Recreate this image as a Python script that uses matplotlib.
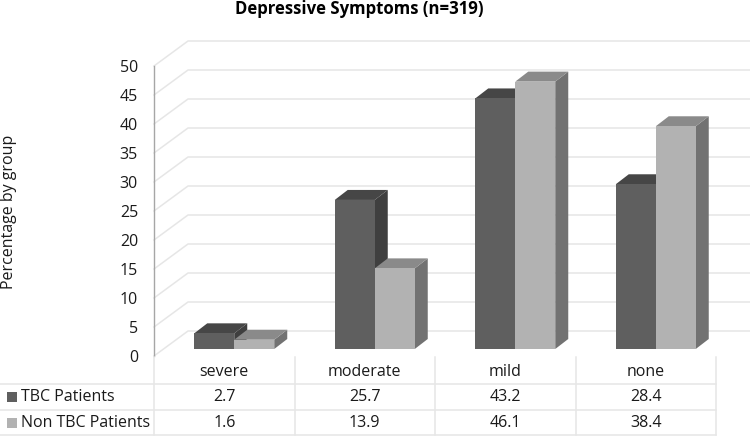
import matplotlib
matplotlib.use("Agg")
import matplotlib.pyplot as plt
from matplotlib.patches import Polygon, Rectangle
from matplotlib.transforms import blended_transform_factory

plt.rcParams['font.family'] = ['Open Sans', 'DejaVu Sans']

title = "Depressive Symptoms (n=319)"
ylabel = "Percentage by group"
categories = ["severe", "moderate", "mild", "none"]
series_names = ["TBC Patients", "Non TBC Patients"]
tbc = [2.7, 25.7, 43.2, 28.4]
non_tbc = [1.6, 13.9, 46.1, 38.4]
yticks = [0, 5, 10, 15, 20, 25, 30, 35, 40, 45, 50]

FS = 11.5
INK = '#1a1a1a'
W, H = 750, 436
PX_X, PX_Y = 140.5, 5.8
fig = plt.figure(figsize=(W/100, H/100), dpi=100, facecolor='white')
ax = fig.add_axes([154/W, (H-356)/H, 4*PX_X/W, 50*PX_Y/H])
ax.set_xlim(0, 4)
ax.set_ylim(0, 50)
ax.patch.set_visible(False)
for s in ['top', 'right', 'bottom']:
    ax.spines[s].set_visible(False)
ax.spines['left'].set_color('#a6a6a6')
ax.spines['left'].set_linewidth(1)
ax.set_xticks([])
ax.set_yticks(yticks)
ax.tick_params(axis='y', length=0, pad=11.5, labelsize=FS, labelcolor=INK)

GRID = '#e6e6e6'
wall_dx, wall_dy = 34/PX_X, 25/PX_Y
x_end = (750-154)/PX_X
for v in yticks:
    ax.plot([0, wall_dx, x_end], [v, v+wall_dy, v+wall_dy], color=GRID, lw=1.1,
            clip_on=False, zorder=1)

plane_dx, plane_dy = 10/PX_X, 7/PX_Y
depth_dx, depth_dy = 13/PX_X, 10/PX_Y
bar_w = 40/PX_X

def bar3d(x0, v, face, top, side):
    y0 = plane_dy
    x1 = x0 + bar_w
    y1 = y0 + v
    ax.add_patch(Polygon([(x1, y0), (x1+depth_dx, y0+depth_dy), (x1+depth_dx, y1+depth_dy), (x1, y1)],
                         fc=side, ec='none', clip_on=False, zorder=3))
    ax.add_patch(Polygon([(x0, y1), (x0+depth_dx, y1+depth_dy), (x1+depth_dx, y1+depth_dy), (x1, y1)],
                         fc=top, ec='none', clip_on=False, zorder=3))
    ax.add_patch(Rectangle((x0, y0), bar_w, v, fc=face, ec='none', clip_on=False, zorder=3))

DARK = ('#5f5f5f', '#464646', '#3f3f3f')
LIGHT = ('#b2b2b2', '#8a8a8a', '#727272')
for i, (a, b) in enumerate(zip(tbc, non_tbc)):
    c = i + 0.5 + plane_dx
    bar3d(c - bar_w, a, *DARK)
    bar3d(c, b, *LIGHT)

# data table below the axis
tr = blended_transform_factory(ax.transData, fig.transFigure)
def fy(p):
    return (H - p) / H
TAB = '#e6e6e6'
row_lines = [383.5, 409.5, 435]
for p in row_lines:
    fig.add_artist(plt.Line2D([0, 715.5/W], [fy(p), fy(p)], color=TAB, lw=1.1,
                              transform=fig.transFigure))
for i in range(5):
    fig.add_artist(plt.Line2D([i, i], [fy(357), fy(435)], color=TAB, lw=1.1, transform=tr))

for i, c in enumerate(categories):
    fig.text(i+0.5, fy(372), c, transform=tr, ha='center', va='center', fontsize=FS, color=INK)
    fig.text(i+0.5, fy(397), f"{tbc[i]}", transform=tr, ha='center', va='center', fontsize=FS, color=INK)
    fig.text(i+0.5, fy(422.5), f"{non_tbc[i]}", transform=tr, ha='center', va='center', fontsize=FS, color=INK)

for name, ypx, col in zip(series_names, [397, 422.5], [DARK[0], LIGHT[0]]):
    fig.add_artist(Rectangle((7/W, fy(ypx+5)), 10/W, 10/H, fc=col, ec='none', transform=fig.transFigure))
    fig.text(21/W, fy(ypx), name, ha='left', va='center', fontsize=FS, color=INK)

fig.text(359/W, fy(9), title, ha='center', va='center', fontsize=12.1, fontweight='bold', color='#000000')
fig.text(9/W, fy(212), ylabel, ha='center', va='center', rotation=90, fontsize=FS, color=INK)

fig.savefig('out.png', dpi=100, facecolor='white')
